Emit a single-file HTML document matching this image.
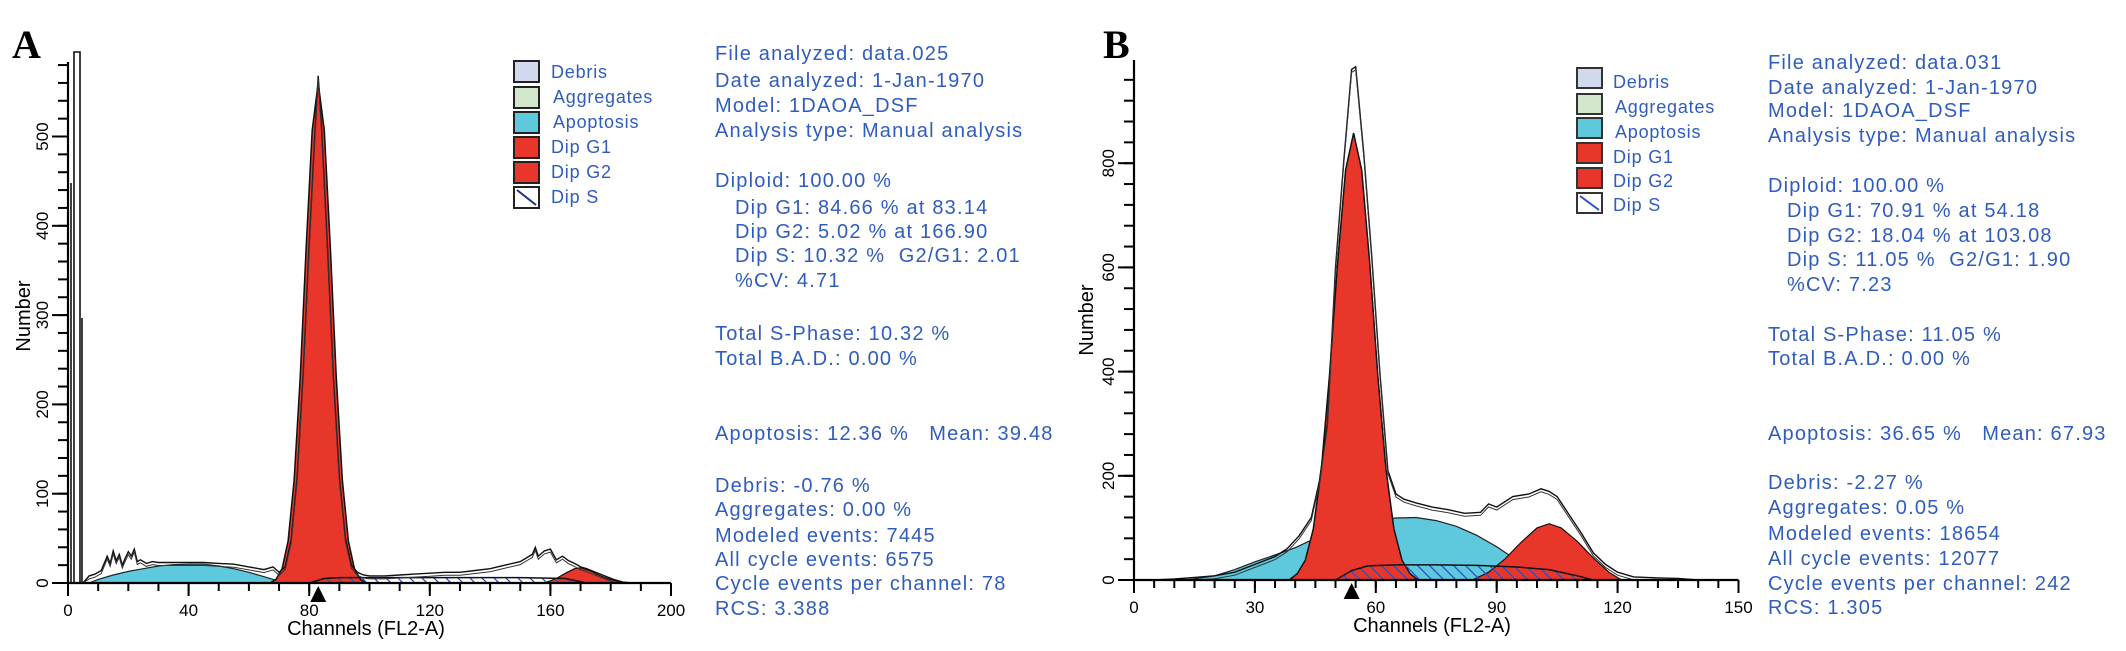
<!DOCTYPE html>
<html><head><meta charset="utf-8">
<style>
html,body{margin:0;padding:0;background:#fff;}
svg{display:block;}
.info{font-family:"Liberation Sans",sans-serif;font-size:20px;fill:#2f5cbf;letter-spacing:1.2px;white-space:pre;}
.leg{font-family:"Liberation Sans",sans-serif;font-size:18px;fill:#2f5cbf;letter-spacing:0.8px;}
.tick{font-family:"Liberation Sans",sans-serif;font-size:17px;fill:#000;}
.axt{font-family:"Liberation Sans",sans-serif;font-size:20px;fill:#000;}
.pl{font-family:"Liberation Serif",serif;font-weight:bold;font-size:40px;fill:#000;}
</style></head>
<body>
<svg id="chart" width="2126" height="651" viewBox="0 0 2126 651" xmlns="http://www.w3.org/2000/svg">
<defs>
<pattern id="hatch" patternUnits="userSpaceOnUse" width="12" height="12" patternTransform="rotate(0)">
<path d="M-3,-3 L15,15 M-3,9 L3,15 M9,-3 L15,3" stroke="#2b4fc4" stroke-width="1.3"/>
</pattern>
</defs>
<text class="pl" x="12" y="58">A</text>
<text class="pl" x="1103" y="58">B</text>

<g>
<rect x="514" y="61" width="25" height="21" fill="#d2d8ee" stroke="#222" stroke-width="2"/>
<rect x="514" y="87" width="25" height="21" fill="#d3e7cc" stroke="#222" stroke-width="2"/>
<rect x="514" y="112" width="25" height="21" fill="#5ec8dc" stroke="#222" stroke-width="2"/>
<rect x="514" y="137" width="25" height="21" fill="#e8362a" stroke="#222" stroke-width="2"/>
<rect x="514" y="162" width="25" height="21" fill="#e8362a" stroke="#222" stroke-width="2"/>
<rect x="514" y="187" width="25" height="21" fill="#fff" stroke="#222" stroke-width="2"/>
<line x1="517" y1="190" x2="536" y2="205" stroke="#1a2f8a" stroke-width="2"/>
<text class="leg" x="551" y="78">Debris</text>
<text class="leg" x="553" y="103">Aggregates</text>
<text class="leg" x="553" y="128">Apoptosis</text>
<text class="leg" x="551" y="153">Dip G1</text>
<text class="leg" x="551" y="178">Dip G2</text>
<text class="leg" x="551" y="203">Dip S</text>
</g>

<g>
<rect x="1577" y="68" width="25" height="20" fill="#d2d8ee" stroke="#333" stroke-width="2"/>
<rect x="1577" y="94" width="25" height="20" fill="#d3e7cc" stroke="#333" stroke-width="2"/>
<rect x="1577" y="118" width="25" height="20" fill="#5ec8dc" stroke="#333" stroke-width="2"/>
<rect x="1577" y="143" width="25" height="20" fill="#e8362a" stroke="#333" stroke-width="2"/>
<rect x="1577" y="168" width="25" height="20" fill="#e8362a" stroke="#333" stroke-width="2"/>
<rect x="1577" y="193" width="25" height="20" fill="#fff" stroke="#333" stroke-width="2"/>
<line x1="1580" y1="196" x2="1599" y2="210" stroke="#2b4fc4" stroke-width="2"/>
<text class="leg" x="1613" y="88">Debris</text>
<text class="leg" x="1615" y="113">Aggregates</text>
<text class="leg" x="1615" y="138">Apoptosis</text>
<text class="leg" x="1613" y="163">Dip G1</text>
<text class="leg" x="1613" y="187">Dip G2</text>
<text class="leg" x="1613" y="211">Dip S</text>
</g>

<g>
<text class="info" x="715" y="60">File analyzed: data.025</text>
<text class="info" x="715" y="87">Date analyzed: 1-Jan-1970</text>
<text class="info" x="715" y="112">Model: 1DAOA_DSF</text>
<text class="info" x="715" y="137">Analysis type: Manual analysis</text>
<text class="info" x="715" y="187">Diploid: 100.00 %</text>
<text class="info" x="735" y="214">Dip G1: 84.66 % at 83.14</text>
<text class="info" x="735" y="238">Dip G2: 5.02 % at 166.90</text>
<text class="info" x="735" y="262">Dip S: 10.32 %  G2/G1: 2.01</text>
<text class="info" x="735" y="287">%CV: 4.71</text>
<text class="info" x="715" y="340">Total S-Phase: 10.32 %</text>
<text class="info" x="715" y="365">Total B.A.D.: 0.00 %</text>
<text class="info" x="715" y="440">Apoptosis: 12.36 %   Mean: 39.48</text>
<text class="info" x="715" y="492">Debris: -0.76 %</text>
<text class="info" x="715" y="516">Aggregates: 0.00 %</text>
<text class="info" x="715" y="542">Modeled events: 7445</text>
<text class="info" x="715" y="566">All cycle events: 6575</text>
<text class="info" x="715" y="590">Cycle events per channel: 78</text>
<text class="info" x="715" y="615">RCS: 3.388</text>
</g>

<g>
<text class="info" x="1768" y="69">File analyzed: data.031</text>
<text class="info" x="1768" y="94">Date analyzed: 1-Jan-1970</text>
<text class="info" x="1768" y="117">Model: 1DAOA_DSF</text>
<text class="info" x="1768" y="142">Analysis type: Manual analysis</text>
<text class="info" x="1768" y="192">Diploid: 100.00 %</text>
<text class="info" x="1787" y="217">Dip G1: 70.91 % at 54.18</text>
<text class="info" x="1787" y="242">Dip G2: 18.04 % at 103.08</text>
<text class="info" x="1787" y="266">Dip S: 11.05 %  G2/G1: 1.90</text>
<text class="info" x="1787" y="291">%CV: 7.23</text>
<text class="info" x="1768" y="341">Total S-Phase: 11.05 %</text>
<text class="info" x="1768" y="365">Total B.A.D.: 0.00 %</text>
<text class="info" x="1768" y="440">Apoptosis: 36.65 %   Mean: 67.93</text>
<text class="info" x="1768" y="489">Debris: -2.27 %</text>
<text class="info" x="1768" y="514">Aggregates: 0.05 %</text>
<text class="info" x="1768" y="540">Modeled events: 18654</text>
<text class="info" x="1768" y="565">All cycle events: 12077</text>
<text class="info" x="1768" y="590">Cycle events per channel: 242</text>
<text class="info" x="1768" y="614">RCS: 1.305</text>
</g>
</svg>
<script>
// ---------- Panel A data ----------
const aXTicks = [0, 40, 80, 120, 160, 200];
const aYTicks = [0, 100, 200, 300, 400, 500];
const aApoCh  = [7, 10, 15, 20, 25, 30, 35, 40, 45, 50, 55, 60, 65, 70, 73];
const aApoVal = [0, 4, 9, 13, 16, 19, 20.5, 21, 21, 19, 16, 12, 7, 2, 0];
const aG1Ch   = [67, 69, 71, 73, 75, 77, 79, 81, 83, 85, 87, 89, 91, 93, 95, 97, 99];
const aG1Val  = [0, 4, 16, 47, 115, 230, 377, 507, 560, 507, 377, 230, 115, 47, 16, 4, 0];
const aG2Ch   = [158, 162, 165, 168, 170, 173, 176, 179, 182, 185];
const aG2Val  = [0, 5, 11, 16, 17, 14, 9, 5, 2, 0];
const aSCh    = [80, 85, 90, 120, 150, 165, 172];
const aSVal   = [0, 5, 6, 6, 6, 5, 0];
const aRawCh  = [5,7,9,11,13,14,15,16,17,18,19,20,21,22,23,24,26,28,30,35,40,45,50,55,60,65,68,70,72,74,76,78,80,82,83,84,86,88,90,92,94,96,98,100,105,110,115,120,125,130,135,140,145,150,152,154,155,156,158,160,162,164,166,168,170,172,175,178,181,184,187];
const aRawVal = [0,8,10,14,30,22,36,25,32,20,28,35,30,38,24,26,22,24,23,23,23,23,22,21,18,15,18,12,18,48,118,235,380,510,568,515,380,232,118,50,20,12,9,8,8,9,10,11,12,12,14,16,20,24,28,32,40,30,36,38,26,30,25,22,18,16,12,8,4,1,0];
const aMarker = 83;

// ---------- Panel B data ----------
const bXTicks = [0, 30, 60, 90, 120, 150];
const bYTicks = [0, 200, 400, 600, 800];
const bApoCh  = [13, 20, 25, 30, 35, 40, 45, 50, 55, 60, 65, 70, 75, 80, 85, 90, 95, 100, 104];
const bApoVal = [0, 8, 20, 35, 48, 62, 80, 95, 107, 115, 119, 120, 114, 103, 86, 64, 38, 14, 0];
const bG1Ch   = [38.5, 40.5, 42.5, 44.5, 46.5, 48.5, 50.5, 52.5, 54.5, 56.5, 58.5, 60.5, 62.5, 64.5, 66.5, 68.5, 70.5];
const bG1Val  = [0, 12, 38, 98, 214, 393, 607, 787, 858, 787, 607, 393, 214, 98, 38, 12, 0];
const bG2Ch   = [84, 88, 92, 96, 100, 103, 106, 110, 114, 118, 121];
const bG2Val  = [0, 15, 40, 72, 100, 108, 100, 74, 42, 14, 0];
const bSCh    = [50, 54, 58, 65, 75, 85, 95, 103, 110, 114];
const bSVal   = [0, 18, 27, 29, 29, 28, 25, 20, 8, 0];
const bRawCh  = [5,10,15,20,25,30,35,38,41,44,46,48,50,52,54,55,57,59,61,63,65,67,70,74,78,82,86,88,90,94,98,101,103,105,108,111,114,117,120,124,130,135,140];
const bRawVal = [0,2,5,8,15,30,45,60,85,120,190,300,600,800,980,985,820,620,400,210,165,155,148,140,135,128,130,146,140,160,165,175,170,160,125,90,52,30,15,6,4,3,0];
const bMarker = 54;

const NS = 'http://www.w3.org/2000/svg';
const svg = document.getElementById('chart');
function el(tag, parent){ const e = document.createElementNS(NS, tag); parent.appendChild(e); return e; }

function drawPanel(P){
  const g = el('g', svg);
  
  
  const X = c => P.x0 + c * P.px;
  const Y = v => P.base - v * P.py;
  const area = (chs, vals) => {
    let d = 'M' + X(chs[0]) + ',' + P.base;
    for (let i = 0; i < chs.length; i++) d += ' L' + X(chs[i]).toFixed(1) + ',' + Y(vals[i]).toFixed(1);
    d += ' L' + X(chs[chs.length-1]) + ',' + P.base + ' Z';
    return d;
  };
  const line = (chs, vals, off) => {
    let d = '';
    for (let i = 0; i < chs.length; i++) d += (i ? ' L' : 'M') + X(chs[i]).toFixed(1) + ',' + (Math.min(P.base, Y(vals[i]) + off)).toFixed(1);
    return d;
  };
  // apoptosis
  const apo = el('path', g);
  apo.setAttribute('d', area(P.apoCh, P.apoVal));
  apo.setAttribute('fill', '#5ec8dc'); apo.setAttribute('stroke', '#222'); apo.setAttribute('stroke-width', '1.2');
  
  
  // G1
  const g1 = el('path', g);
  g1.setAttribute('d', area(P.g1Ch, P.g1Val));
  g1.setAttribute('fill', '#e8362a'); g1.setAttribute('stroke', '#111'); g1.setAttribute('stroke-width', '1.5');
  
  
  // G2
  const g2 = el('path', g);
  g2.setAttribute('d', area(P.g2Ch, P.g2Val));
  g2.setAttribute('fill', '#e8362a'); g2.setAttribute('stroke', '#111'); g2.setAttribute('stroke-width', '1.2');
  
  
  // S phase
  const s = el('path', g);
  s.setAttribute('d', area(P.sCh, P.sVal));
  s.setAttribute('fill', 'url(#hatch)'); s.setAttribute('stroke', '#111'); s.setAttribute('stroke-width', '1.5');
  
  
  // raw histogram (double line)
  const r1 = el('path', g);
  r1.setAttribute('d', line(P.rawCh, P.rawVal, 0));
  r1.setAttribute('fill', 'none'); r1.setAttribute('stroke', '#111'); r1.setAttribute('stroke-width', '1.4');
  
  
  const r2 = el('path', g);
  r2.setAttribute('d', line(P.rawCh, P.rawVal, 3));
  r2.setAttribute('fill', 'none'); r2.setAttribute('stroke', '#333'); r2.setAttribute('stroke-width', '1');
  
  
  // axes
  const ax = el('path', g);
  ax.setAttribute('d', 'M' + P.x0 + ',' + P.top + ' L' + P.x0 + ',' + P.base + ' L' + X(P.xMax) + ',' + P.base);
  ax.setAttribute('fill', 'none'); ax.setAttribute('stroke', '#000'); ax.setAttribute('stroke-width', '2.2');
  
  
  // y minor ticks
  for (let v = 0; v * P.py <= P.base - P.top + 0.5; v += P.yMinor) {
    const t = el('line', g);
    t.setAttribute('x1', P.x0 - 10); t.setAttribute('x2', P.x0);
    t.setAttribute('y1', Y(v)); t.setAttribute('y2', Y(v));
    t.setAttribute('stroke', '#000'); t.setAttribute('stroke-width', '2');
  }
  P.yTicks.forEach(v => {
    const t = el('line', g);
    t.setAttribute('x1', P.x0 - 16); t.setAttribute('x2', P.x0);
    t.setAttribute('y1', Y(v)); t.setAttribute('y2', Y(v));
    t.setAttribute('stroke', '#000'); t.setAttribute('stroke-width', '2');
    const lb = el('text', g);
    lb.setAttribute('class', 'tick');
    lb.setAttribute('text-anchor', 'middle');
    lb.setAttribute('transform', 'translate(' + (P.x0 - 20) + ',' + Y(v) + ') rotate(-90)');
    lb.textContent = v;
    
    
  });
  // x minor ticks
  for (let c = 0; c <= P.xMax + 0.01; c += P.xMinor) {
    const t = el('line', g);
    t.setAttribute('x1', X(c)); t.setAttribute('x2', X(c));
    t.setAttribute('y1', P.base); t.setAttribute('y2', P.base + 8);
    t.setAttribute('stroke', '#000'); t.setAttribute('stroke-width', '2');
  }
  P.xTicks.forEach(c => {
    const t = el('line', g);
    t.setAttribute('x1', X(c)); t.setAttribute('x2', X(c));
    t.setAttribute('y1', P.base); t.setAttribute('y2', P.base + 13);
    t.setAttribute('stroke', '#000'); t.setAttribute('stroke-width', '2');
    const lb = el('text', g);
    lb.setAttribute('class', 'tick');
    lb.setAttribute('x', X(c)); lb.setAttribute('y', P.base + 33);
    lb.setAttribute('text-anchor', 'middle');
    lb.textContent = c;
    
    
  });
  // marker
  const m = el('path', g);
  const mx = X(P.marker);
  m.setAttribute('d', 'M' + (mx - 8) + ',' + (P.base + 19) + ' L' + mx + ',' + (P.base + 3) + ' L' + (mx + 8) + ',' + (P.base + 19) + ' Z');
  m.setAttribute('fill', '#000');
  
  
  // axis titles
  const xt = el('text', g);
  xt.setAttribute('class', 'axt');
  xt.setAttribute('x', P.xTitleX); xt.setAttribute('y', P.base + 52);
  xt.setAttribute('text-anchor', 'middle');
  xt.textContent = 'Channels (FL2-A)';
  
  
  const yt = el('text', g);
  yt.setAttribute('class', 'axt');
  yt.setAttribute('text-anchor', 'middle');
  yt.setAttribute('transform', 'translate(' + P.yTitleX + ',' + P.yTitleY + ') rotate(-90)');
  yt.textContent = 'Number';
  
  
  return {g, X, Y};
}

const A = drawPanel({name:'panel-a', x0:68, px:3.015, base:583, py:0.893, top:62, xMax:200, xMinor:10, yMinor:20,
  xTicks:aXTicks, yTicks:aYTicks, apoCh:aApoCh, apoVal:aApoVal, g1Ch:aG1Ch, g1Val:aG1Val, g2Ch:aG2Ch, g2Val:aG2Val,
  sCh:aSCh, sVal:aSVal, rawCh:aRawCh, rawVal:aRawVal, marker:aMarker, xTitleX:366, yTitleX:30, yTitleY:316});
// off-scale debris spike near channel 2 in panel A
const spike = el('path', A.g);
spike.setAttribute('d', 'M74,583 L74,52 L80,52 L80,583 M71,583 L71,183 M82,583 L82,318');
spike.setAttribute('fill', 'none'); spike.setAttribute('stroke', '#111'); spike.setAttribute('stroke-width', '1.6');



drawPanel({name:'panel-b', x0:1134, px:4.03, base:580, py:0.521, top:60, xMax:150, xMinor:5, yMinor:40,
  xTicks:bXTicks, yTicks:bYTicks, apoCh:bApoCh, apoVal:bApoVal, g1Ch:bG1Ch, g1Val:bG1Val, g2Ch:bG2Ch, g2Val:bG2Val,
  sCh:bSCh, sVal:bSVal, rawCh:bRawCh, rawVal:bRawVal, marker:bMarker, xTitleX:1432, yTitleX:1093, yTitleY:320});
</script>
</body></html>
